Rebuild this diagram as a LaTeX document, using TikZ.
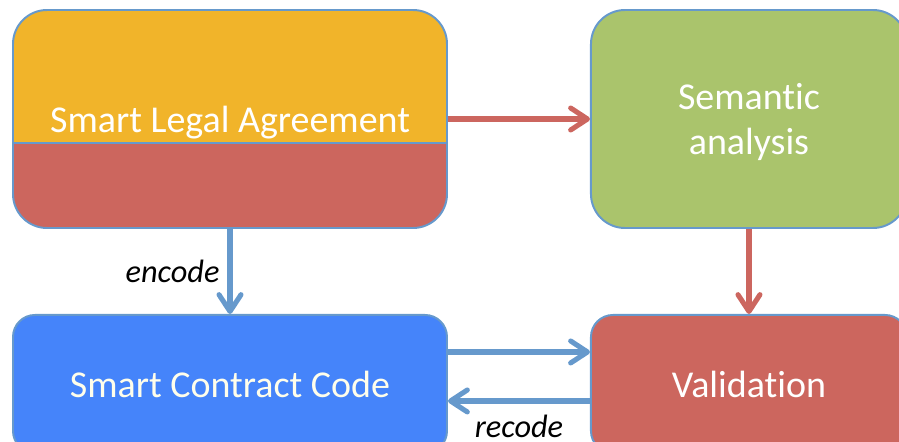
\documentclass[tikz,border=0pt]{standalone}
\usepackage{fontspec}
\setmainfont[Ligatures=NoCommon]{Carlito}
\usetikzlibrary{arrows.meta,positioning,calc}
\definecolor{slayellow}{HTML}{F1B42A}
\definecolor{slared}{HTML}{CC665E}
\definecolor{semgreen}{HTML}{AAC46C}
\definecolor{codeblue}{HTML}{4584FA}
\definecolor{boxline}{HTML}{6699CC}
\definecolor{flowblue}{HTML}{6699CC}
\definecolor{flowred}{HTML}{CC665F}

\tikzset{
  box/.style={draw=boxline, line width=1.4pt, text=white, align=center, inner sep=0pt,
    font=\fontsize{27}{32}\selectfont},
  tallbox/.style={box, rounded corners=0.85cm, minimum height=5.45cm, text depth=-2pt},
  lowbox/.style={box, rounded corners=0.55cm, minimum height=3.45cm},
  flow/.style={line width=3.6pt, -{Straight Barb[length=0.42cm,width=0.55cm,round]}},
  lbl/.style={font=\fontsize{23}{26}\selectfont\itshape, inner sep=0pt, text=black},
}

\begin{document}
\begin{tikzpicture}
  \useasboundingbox (0,0) rectangle (22.475,-11.05);
  \clip (0,0) rectangle (22.475,-11.05);

  % --- Top row ---
  \node[tallbox, fill=slayellow, minimum width=10.85cm,
    path picture={
      \fill[slared] ($(path picture bounding box.south west)+(-1,-1)$)
        rectangle ($(path picture bounding box.east)+(1,-0.6)$);
      \draw[boxline, line width=1.4pt] ($(path picture bounding box.west)+(0,-0.6)$)
        -- ($(path picture bounding box.east)+(0,-0.6)$);
    }] (sla) at (5.75,-2.975) {Smart Legal Agreement};
  \node[tallbox, fill=semgreen, minimum width=7.9cm, right=3.55cm of sla] (sem)
    {Semantic\\analysis};

  % --- Bottom row ---
  \node[lowbox, fill=codeblue, text=white!92!yellow, minimum width=10.85cm,
    below=2.125cm of sla] (scc) {Smart Contract Code};
  \node[lowbox, fill=slared, minimum width=7.9cm, below=2.125cm of sem] (val)
    {Validation};

  % Arrows
  \draw[flow, flowred] (sla.east) -- (sem.west);
  \draw[flow, flowred] (sem.south) -- (val.north);
  \draw[flow, flowblue] (sla.south) -- node[lbl, left=0.2cm] {encode} (scc.north);
  \draw[flow, flowblue] ([yshift=0.8cm]scc.east) -- ([yshift=0.8cm]val.west);
  \draw[flow, flowblue] ([yshift=-0.425cm]val.west) -- node[lbl, below=0.28cm] {recode}
    ([yshift=-0.425cm]scc.east);
\end{tikzpicture}
\end{document}
